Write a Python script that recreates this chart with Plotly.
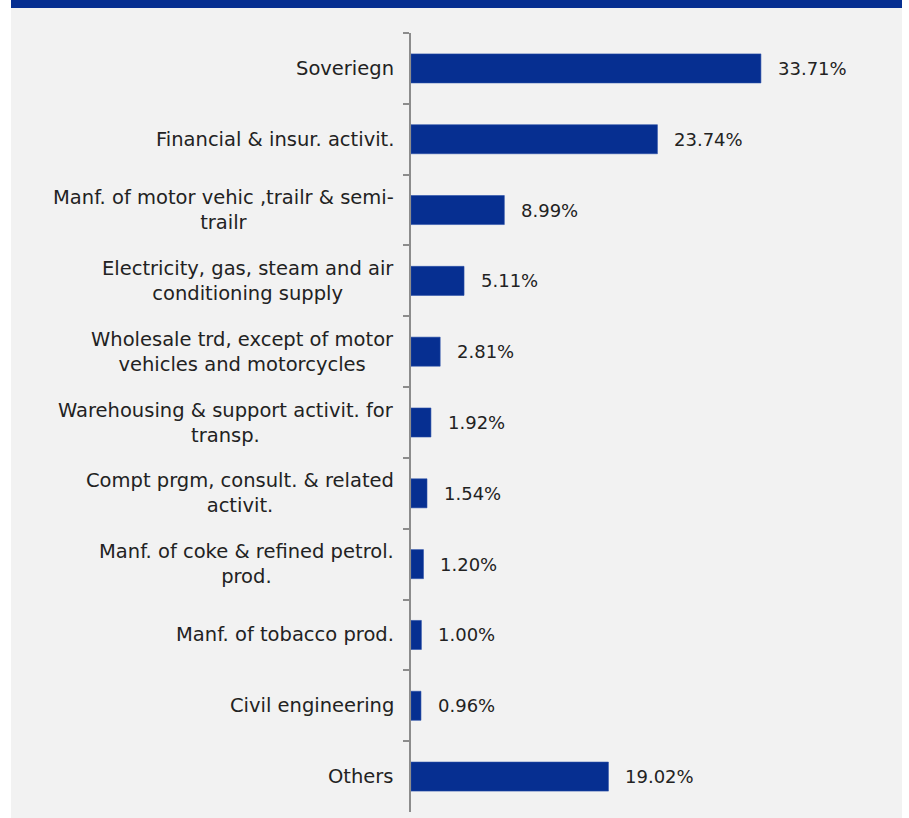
import plotly.graph_objects as go

# Sector breakdown of the portfolio (share of total, %)
sectors = [
    "Soveriegn",
    "Financial & insur. activit.",
    "Manf. of motor vehic ,trailr & semi-<br>trailr",
    "Electricity, gas, steam and air<br>conditioning supply",
    "Wholesale trd, except of motor<br>vehicles and motorcycles",
    "Warehousing & support activit. for<br>transp.",
    "Compt prgm, consult. & related<br>activit.",
    "Manf. of coke & refined petrol.<br>prod.",
    "Manf. of tobacco prod.",
    "Civil engineering",
    "Others",
]
shares = [33.71, 23.74, 8.99, 5.11, 2.81, 1.92, 1.54, 1.20, 1.00, 0.96, 19.02]

BAR = "#062f91"
PANEL = "#f2f2f2"
TEXT = "#222222"
FONT = "DejaVu Sans"

W, H = 909, 818
L, R, T, B = 411, 29, 33, 6
pw, ph = W - L - R, H - T - B


def px_x(p):
    return (p - L) / pw


def px_y(p):
    return (H - B - p) / ph


fig = go.Figure()
fig.add_trace(go.Bar(
    x=shares,
    y=sectors,
    orientation="h",
    marker=dict(color=BAR, line=dict(color="#2a4fa8", width=0.6)),
    width=0.41,
    hoverinfo="skip",
))

# value labels to the right of each bar
for s, v in zip(sectors, shares):
    fig.add_annotation(
        x=v, y=s, text=f"{v:.2f}%", showarrow=False,
        xanchor="left", yanchor="middle", xshift=15,
        font=dict(family=FONT, size=18, color=TEXT),
    )

# category labels, wrapped lines centred on each other
for s in sectors:
    fig.add_annotation(
        x=px_x(396), xref="paper", y=s, yref="y",
        text=s, showarrow=False, align="center",
        xanchor="right", yanchor="middle",
        font=dict(family=FONT, size=19.5, color=TEXT),
    )

# light panel and header band
fig.add_shape(type="rect", xref="paper", yref="paper",
              x0=px_x(11), x1=px_x(902), y0=px_y(818), y1=px_y(8),
              fillcolor=PANEL, line=dict(width=0), layer="below")
fig.add_shape(type="rect", xref="paper", yref="paper",
              x0=px_x(11), x1=px_x(902), y0=px_y(8), y1=px_y(-2),
              fillcolor=BAR, line=dict(width=0), layer="below")

fig.update_layout(
    width=W, height=H,
    margin=dict(l=L, r=R, t=T, b=B),
    paper_bgcolor="white",
    plot_bgcolor="rgba(0,0,0,0)",
    showlegend=False,
    font=dict(family=FONT, size=18, color=TEXT),
    xaxis=dict(range=[0, pw / 10.38], visible=False, fixedrange=True),
    yaxis=dict(
        autorange=False,
        range=[len(sectors) - 0.5, -0.5],
        showline=True, linecolor="#8c8c8c", linewidth=1.5,
        ticks="outside", tickson="boundaries", ticklen=6,
        tickcolor="#8c8c8c", tickwidth=1.5,
        showticklabels=False,
        showgrid=False, zeroline=False,
    ),
)

fig.write_html("out.html")
